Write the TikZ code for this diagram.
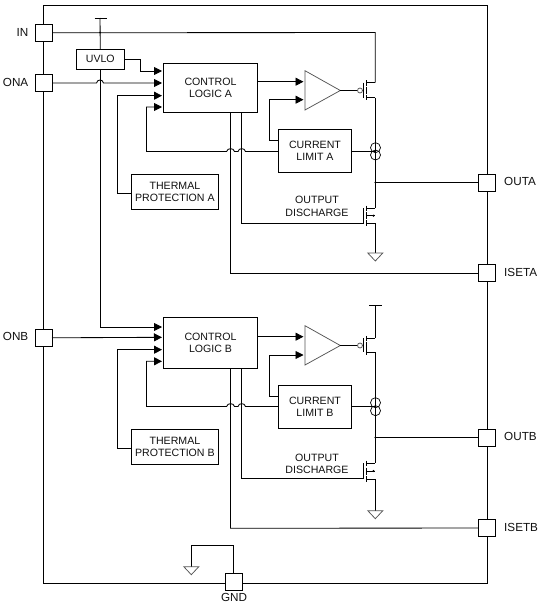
\documentclass[tikz,border=0pt]{standalone}
\usepackage{fontspec}
\setmainfont{Liberation Sans}
\usetikzlibrary{arrows.meta}
\definecolor{ink}{HTML}{111111}
\definecolor{soft}{HTML}{555555}
\newcommand{\fetsym}[2]{% drain y, source y
  \draw[wire] (366,#1-2.5) -- (366,#1+3);
  \draw[wire] (366,{(#1+#2)/2-3.5}) -- (366,{(#1+#2)/2+3.5});
  \draw[wire] (366,#2-3) -- (366,#2+2.5);
  \draw[wire] (363.5,#1) -- (363.5,#2);
  \draw[wire] (366,#1) -- (375.3,#1);
  \draw[wire] (366,#2) -- (375.3,#2);
}
\newcommand{\gndsym}[2]{\draw[softline] (#1-7.5,#2) -- (#1+7.5,#2) -- (#1,#2+8) -- cycle;}
\begin{document}
\begin{tikzpicture}[x=1pt,y=-1pt,
  wire/.style={draw=black,line width=0.85pt},
  softline/.style={draw=soft,line width=0.75pt},
  feed/.style={wire,-{Triangle[length=8pt,width=8pt]},shorten >=1.5pt},
  blk/.style={draw=black,line width=0.85pt,fill=white,inner sep=0pt,outer sep=0pt,align=center,text=ink,font=\fontsize{10.6}{12}\selectfont},
  pad/.style={draw=black,line width=0.85pt,fill=white,inner sep=0pt,outer sep=0pt,minimum width=17pt,minimum height=17pt},
  pinlabel/.style={inner sep=0pt,text=ink,font=\fontsize{11.7}{13}\selectfont},
  caption/.style={inner sep=0pt,align=center,text=ink,font=\fontsize{10.6}{12.5}\selectfont}
]
\useasboundingbox (0,0) rectangle (548,605);
\fill[white] (0,0) rectangle (548,605);

% chip outline
\node[draw=black,line width=0.85pt,inner sep=0pt,outer sep=0pt,minimum width=444pt,minimum height=578pt] (chip) at (265.4,294.4) {};

% coordinates
\coordinate (railA) at (100,18);
\coordinate (inTurn) at (375.3,32.5);
\coordinate (gAd) at (375.3,82.7);
\coordinate (gAs) at (375.3,97.7);
\coordinate (hAd) at (375.3,208);
\coordinate (hAs) at (375.3,223.3);
\coordinate (gndA) at (375.3,253);
\coordinate (jA) at (375.3,182.5);
\coordinate (railB) at (375.3,305);
\coordinate (gBd) at (375.3,338.3);
\coordinate (gBs) at (375.3,352.3);
\coordinate (hBd) at (375.3,463);
\coordinate (hBs) at (375.3,479);
\coordinate (gndB) at (375.3,510.7);
\coordinate (jB) at (375.3,437.5);
\coordinate (gndC) at (191.3,566.7);

% blocks
\node[pad] (pIN) at (43.5,32.8) {};
\node[pad] (pONA) at (43.5,83) {};
\node[pad] (pONB) at (43.5,337.8) {};
\node[pad] (pOUTA) at (487,182.5) {};
\node[pad] (pISETA) at (487,273) {};
\node[pad] (pOUTB) at (487,437.5) {};
\node[pad] (pISETB) at (487,528) {};
\node[pad] (pGND) at (233.7,581.5) {};

\node[blk,minimum width=48pt,minimum height=19.5pt] (uvlo) at (100.3,59.2) {UVLO};
\node[blk,minimum width=94pt,minimum height=49pt] (clA) at (210.5,87.8) {CONTROL\\LOGIC A};
\node[blk,minimum width=94pt,minimum height=51pt] (clB) at (210.5,342.8) {CONTROL\\LOGIC B};
\node[blk,minimum width=87pt,minimum height=35pt] (tpA) at (174.9,191.8) {THERMAL\\PROTECTION A};
\node[blk,minimum width=87pt,minimum height=35pt] (tpB) at (174.9,446.8) {THERMAL\\PROTECTION B};
\node[blk,minimum width=73.4pt,minimum height=43pt] (clmA) at (315,150.8) {CURRENT\\LIMIT A};
\node[blk,minimum width=73.4pt,minimum height=43.3pt] (clmB) at (315,406.7) {CURRENT\\LIMIT B};

% comparators
\coordinate (cmpAo) at (340.3,90.5);
\coordinate (cmpBo) at (340.3,345.5);
\draw[softline] (305,70.7) -- (cmpAo) -- (305,110) -- cycle;
\draw[softline] (305,325.7) -- (cmpBo) -- (305,365) -- cycle;
\coordinate (cmpA1) at (305,81.7);
\coordinate (cmpA2) at (305,99.7);
\coordinate (cmpB1) at (305,336.7);
\coordinate (cmpB2) at (305,355);

% control logic inputs
\coordinate (a1) at (163.5,71);
\coordinate (a2) at (163.5,83);
\coordinate (a3) at (163.5,95.7);
\coordinate (a4) at (163.5,107);
\coordinate (b1) at (163.5,327);
\coordinate (b2) at (163.5,337.3);
\coordinate (b3) at (163.5,349.7);
\coordinate (b4) at (163.5,361.3);

% section A wiring
\draw[wire] (94.5,18) -- (107,18);
\draw[wire] (railA) -- (uvlo.north);
\draw[feed] (uvlo.east) -- (140.5,59.2) -- (140.5,71) -- (a1);
\draw[wire] (pIN.east) -- (inTurn) -- (gAd);
\fill (100,32.5) circle[radius=1pt];
\draw[feed] (pONA.east) -- (96.5,83) .. controls (97.3,79) and (102.7,79) .. (103.5,83) -- (a2);
\draw[feed] (tpA.west |- 0,193.3) -- (117.5,193.3) -- (117.5,95.7) -- (a3);
\draw[feed] (clmA.west |- 0,151.5) -- (245.5,151.5) .. controls (244.8,147.7) and (238.7,147.7) .. (238,151.5)
  -- (234.5,151.5) .. controls (233.8,147.7) and (227.3,147.7) .. (226.6,151.5) -- (146.5,151.5) -- (146.5,107) -- (a4);
\draw[wire] (clA.south -| 230.5,0) -- (230.5,273) -- (pISETA.west);
\draw[wire] (clA.south -| 241.5,0) -- (241.5,223.3) -- (363.5,223.3);
\draw[feed] (clA.east |- 0,81.7) -- (cmpA1);
\draw[feed] (clmA.west |- 0,140) -- (269.3,140) -- (269.3,99.7) -- (cmpA2);
\draw[wire] (cmpAo) -- (357.5,90.5);
\draw[softline] (360,90.5) circle[radius=2.5pt];
\draw[wire] (362.5,90.5) -- (363.5,90.5);
\fetsym{82.7}{97.7}
\draw[wire] (gAs) -- (hAd);
\draw[wire] (hAs) -- (gndA);
\draw[wire] (jA) -- (pOUTA.west);
\fill (jA) circle[radius=1pt];
\draw[wire] (clmA.east |- 0,151.3) -- (375.3,151.3);
\draw[line width=0.7pt] (375.5,147.7) circle[radius=5pt];
\draw[line width=0.7pt] (375.5,155) circle[radius=5pt];
\fetsym{208}{223.3}
\draw[wire] (366,215.7) -- (375.3,215.7);
\fill (373.5,215.7) circle[radius=1.2pt];
\gndsym{375.3}{253}
\node[caption] (dA) at (317,206.5) {OUTPUT\\DISCHARGE};

% section B wiring
\draw[feed] (uvlo.south -| 100,0) -- (100,327) -- (b1);
\draw[feed] (pONB.east) -- (b2);
\draw[feed] (tpB.west |- 0,448.3) -- (117.5,448.3) -- (117.5,349.7) -- (b3);
\draw[feed] (clmB.west |- 0,406.5) -- (245.5,406.5) .. controls (244.8,402.7) and (238.7,402.7) .. (238,406.5)
  -- (234.5,406.5) .. controls (233.8,402.7) and (227.3,402.7) .. (226.6,406.5) -- (146.5,406.5) -- (146.5,361.3) -- (b4);
\draw[wire] (clB.south -| 230.5,0) -- (230.5,528.3) -- (pISETB.west);
\draw[wire] (clB.south -| 241.5,0) -- (241.5,478.3) -- (363.5,478.3);
\draw[feed] (clB.east |- 0,336.7) -- (cmpB1);
\draw[feed] (clmB.west |- 0,396.7) -- (269.3,396.7) -- (269.3,355) -- (cmpB2);
\draw[wire] (cmpBo) -- (357.5,345.5);
\draw[softline] (360,345.5) circle[radius=2.5pt];
\draw[wire] (362.5,345.5) -- (363.5,345.5);
\draw[wire] (369,305) -- (382,305);
\draw[wire] (railB) -- (gBd);
\fetsym{338.3}{352.3}
\draw[wire] (gBs) -- (hBd);
\draw[wire] (hBs) -- (gndB);
\draw[wire] (jB) -- (pOUTB.west);
\fill (jB) circle[radius=1pt];
\draw[wire] (clmB.east |- 0,406) -- (375.3,406);
\draw[line width=0.7pt] (375.5,402.7) circle[radius=5pt];
\draw[line width=0.7pt] (375.5,410.7) circle[radius=5pt];
\fetsym{463}{479}
\draw[wire] (366,471) -- (375.3,471);
\fill (373.5,471) circle[radius=1.2pt];
\gndsym{375.3}{510.7}
\node[caption] (dB) at (317,464) {OUTPUT\\DISCHARGE};

% ground
\draw[wire] (pGND.north) -- (233.7,545.3) -- (191.3,545.3) -- (gndC);
\gndsym{191.3}{566.7}

% pin labels
\node[pinlabel,anchor=east] (lIN) at (28.5,32) {IN};
\node[pinlabel,anchor=east] (lONA) at (28.5,82) {ONA};
\node[pinlabel,anchor=east] (lONB) at (28.5,336) {ONB};
\node[pinlabel,anchor=west] (lOUTA) at (504,181) {OUTA};
\node[pinlabel,anchor=west] (lISETA) at (504,272.5) {ISETA};
\node[pinlabel,anchor=west] (lOUTB) at (504,436) {OUTB};
\node[pinlabel,anchor=west] (lISETB) at (504,527) {ISETB};
\node[pinlabel] (lGND) at (234,597.5) {GND};
\end{tikzpicture}
\end{document}
